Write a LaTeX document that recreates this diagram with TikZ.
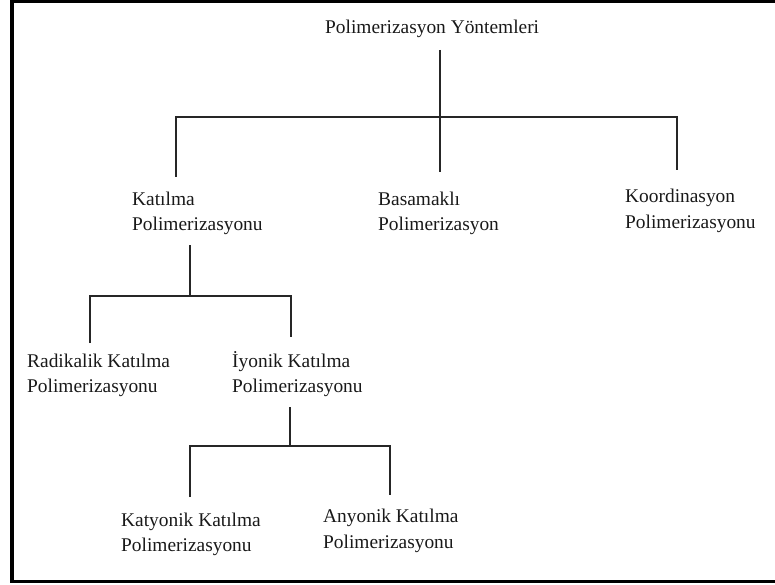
\documentclass[tikz,border=0pt]{standalone}
\usepackage{fontspec}
\setmainfont{Liberation Serif}
\begin{document}
\begin{tikzpicture}[x=1pt,y=-1pt,
  label/.style={anchor=base west,align=left,inner sep=0pt,
    font=\fontsize{19.4}{25.5}\selectfont,text=black!90},
  conn/.style={line width=1.3pt,draw=black!85},
  frame/.style={line width=3.6pt,draw=black}]
\useasboundingbox (0,0) rectangle (775,585);
% outer frame
\draw[frame] (12,1.5) rectangle (790,581.5);

% text blocks (the base anchor sits on the last line)
\node[label] (root) at (325,34) {Polimerizasyon Yöntemleri};
\node[label] (kat) at (132,230.5) {Katılma\\Polimerizasyonu};
\node[label] (bas) at (378,230.5) {Basamaklı\\Polimerizasyon};
\node[label] (koo) at (625,228.5) {Koordinasyon\\Polimerizasyonu};
\node[label] (rad) at (27,392.5) {Radikalik Katılma\\Polimerizasyonu};
\node[label] (iyo) at (232,392.5) {İyonik Katılma\\Polimerizasyonu};
\node[label] (kty) at (121,551.5) {Katyonik Katılma\\Polimerizasyonu};
\node[label] (any) at (323,548) {Anyonik Katılma\\Polimerizasyonu};

% junction points of the tree
\coordinate (root-out) at (440,50);
\coordinate (bus1) at (440,117);
\coordinate (kat-in) at (176,177);
\coordinate (bas-in) at (440,172);
\coordinate (koo-in) at (677,170);

\coordinate (kat-out) at (190,245);
\coordinate (bus2) at (190,296);
\coordinate (rad-in) at (90,343);
\coordinate (iyo-in) at (291,337);

\coordinate (iyo-out) at (290,407);
\coordinate (bus3) at (290,446);
\coordinate (kty-in) at (190,497);
\coordinate (any-in) at (390,495);

% first level
\draw[conn] (root-out) -- (bus1);
\draw[conn] (kat-in) |- (bus1) -| (koo-in);
\draw[conn] (bus1) -- (bas-in);
% second level
\draw[conn] (kat-out) -- (bus2);
\draw[conn] (rad-in) |- (bus2) -| (iyo-in);
% third level
\draw[conn] (iyo-out) -- (bus3);
\draw[conn] (kty-in) |- (bus3) -| (any-in);
\end{tikzpicture}
\end{document}
